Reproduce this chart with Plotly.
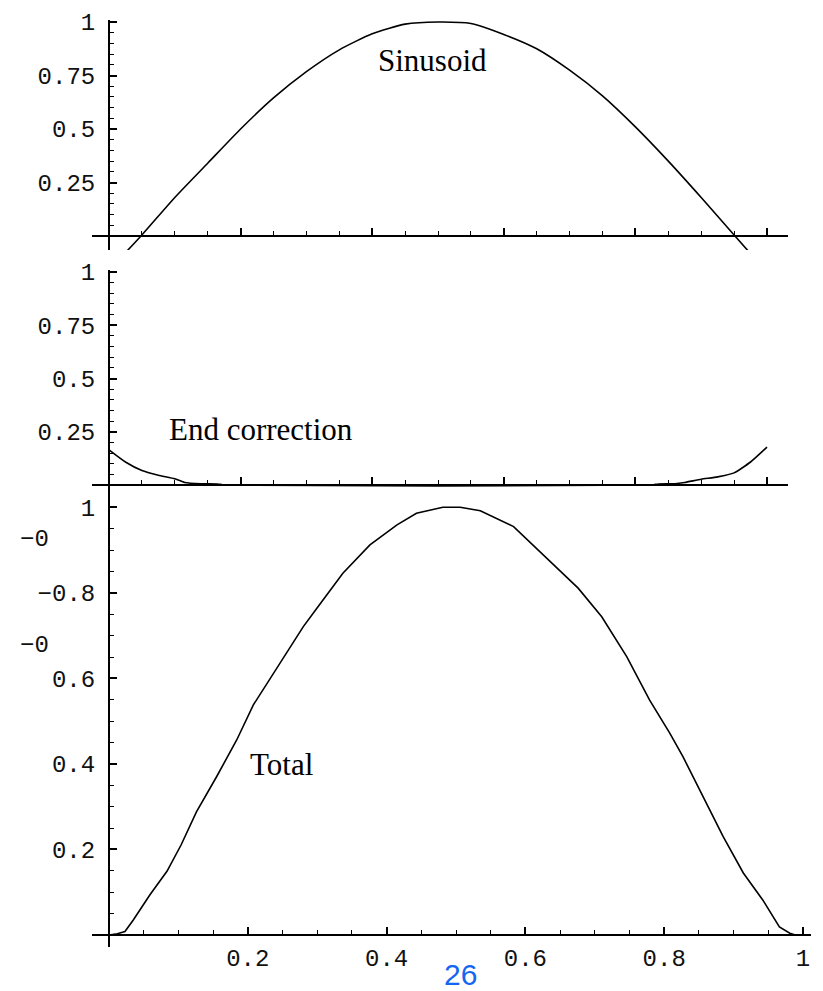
import plotly.graph_objects as go

# ---------------- data ----------------
sin_x = [0.0, 0.05, 0.1, 0.15, 0.2, 0.25, 0.3, 0.35, 0.4, 0.45, 0.5,
         0.55, 0.6, 0.65, 0.7, 0.75, 0.8, 0.85, 0.9, 0.95, 1.0]
sin_y = [-0.16, 0.005, 0.18, 0.34, 0.50, 0.645, 0.768, 0.87, 0.945, 0.99, 1.0,
         0.993, 0.942, 0.875, 0.775, 0.655, 0.51, 0.35, 0.18, 0.005, -0.17]

ec_x = [0.0, 0.025, 0.05, 0.075, 0.1, 0.115, 0.14, 0.165, 0.175, 0.825, 0.835,
        0.86, 0.875, 0.9, 0.925, 0.95, 0.975, 1.0]
ec_y = [0.165, 0.108, 0.068, 0.046, 0.029, 0.012, 0.006, 0.005, 0.0, 0.0, 0.005,
        0.006, 0.012, 0.027, 0.038, 0.057, 0.108, 0.178]

tot_x = [0.0, 0.012, 0.023, 0.035, 0.059, 0.0835, 0.104, 0.126, 0.155, 0.184,
         0.208, 0.232, 0.2565, 0.280, 0.299, 0.337, 0.376, 0.415, 0.443, 0.481,
         0.506, 0.535, 0.583, 0.618, 0.676, 0.710, 0.746, 0.779, 0.808, 0.827,
         0.856, 0.885, 0.914, 0.942, 0.966, 0.981, 0.989]
tot_y = [0.0, 0.003, 0.008, 0.035, 0.094, 0.149, 0.211, 0.288, 0.37, 0.456,
         0.538, 0.60, 0.663, 0.721, 0.763, 0.846, 0.912, 0.959, 0.986, 1.0,
         1.0, 0.992, 0.955, 0.90, 0.811, 0.744, 0.651, 0.549, 0.472, 0.417,
         0.323, 0.23, 0.145, 0.082, 0.019, 0.004, 0.0]

top_ytick_vals = [0.25, 0.5, 0.75, 1.0]
top_ytick_text = ["0.25", "0.5", "0.75", "1"]
bot_ytick_vals = [0.2, 0.4, 0.6, 0.8, 1.0]
bot_ytick_text = ["0.2", "0.4", "0.6", "\u22120.8", "1"]
bot_xtick_vals = [0.2, 0.4, 0.6, 0.8, 1.0]
bot_xtick_text = ["0.2", "0.4", "0.6", "0.8", "1"]
stray_label_vals = [0.924, 0.676]
stray_label_text = ["\u22120", "\u22120"]
panel_labels = ["Sinusoid", "End correction", "Total"]
page_number = "26"

# ---------------- layout geometry (pixels) ----------------
W, H = 823, 991
TICKFONT = dict(family="Liberation Mono", size=24, color="#111111")
TEXTFONT = dict(family="Liberation Serif", size=31, color="#000000")


def fx(px):
    return px / W


def fy(py):
    return 1 - py / H


def axis_x(x0px, x1px, zero_px, unit_px, ax_py, labels, tickvals=None, ticktext=None):
    rng = [(x0px - zero_px) / unit_px, (x1px - zero_px) / unit_px]
    majors = tickvals if tickvals is not None else [0.2, 0.4, 0.6, 0.8, 1.0]
    minors = [round(0.05 * i, 2) for i in range(1, 21) if round(0.05 * i, 2) not in majors]
    d = dict(domain=[fx(x0px), fx(x1px)], range=rng, anchor="free", position=fy(ax_py),
             showline=True, linewidth=2, linecolor="black", showgrid=False, zeroline=False,
             ticks="inside", ticklen=7, tickwidth=1.6, tickcolor="black",
             tickmode="array", tickvals=majors, ticktext=ticktext if ticktext else None,
             showticklabels=labels, tickfont=TICKFONT, ticklabelstandoff=1,
             minor=dict(tickmode="array", tickvals=minors, ticks="inside", ticklen=4,
                        tickwidth=1.4, tickcolor="black"),
             fixedrange=True)
    return d


def axis_y(y_top_px, y_bot_px, zero_py, unit_px, tickvals, ticktext, minor_step):
    rng = [(zero_py - y_bot_px) / unit_px, (zero_py - y_top_px) / unit_px]
    n = int(round(1.0 / minor_step))
    minors = [round(minor_step * i, 3) for i in range(1, n + 1)]
    minors = [m for m in minors if all(abs(m - t) > 1e-6 for t in tickvals)]
    return dict(domain=[fy(y_bot_px), fy(y_top_px)], range=rng, anchor="free", position=fx(109),
                showline=True, linewidth=2, linecolor="black", showgrid=False, zeroline=False,
                ticks="inside", ticklen=7, tickwidth=1.6, tickcolor="black",
                tickmode="array", tickvals=tickvals, ticktext=ticktext,
                tickfont=TICKFONT, ticklabelstandoff=8,
                minor=dict(tickmode="array", tickvals=minors, ticks="inside", ticklen=4,
                           tickwidth=1.4, tickcolor="black"),
                fixedrange=True)


fig = go.Figure()
line = dict(color="black", width=1.6)
fig.add_trace(go.Scatter(x=sin_x, y=sin_y, mode="lines", line=dict(**line, shape="spline", smoothing=0.6),
                         xaxis="x", yaxis="y", hoverinfo="skip"))
fig.add_trace(go.Scatter(x=ec_x, y=ec_y, mode="lines", line=dict(**line, shape="spline", smoothing=0.5),
                         xaxis="x2", yaxis="y2", hoverinfo="skip"))
fig.add_trace(go.Scatter(x=tot_x, y=tot_y, mode="lines", line=line,
                         xaxis="x3", yaxis="y3", hoverinfo="skip"))

layout = dict(
    width=W, height=H, margin=dict(l=0, r=0, t=0, b=0, autoexpand=False),
    paper_bgcolor="white", plot_bgcolor="rgba(0,0,0,0)", showlegend=False,
    xaxis=axis_x(92, 788, 109, 658, 236, False),
    yaxis=axis_y(20, 250, 236, 214, top_ytick_vals, top_ytick_text, 0.05),
    xaxis2=axis_x(92, 788, 109, 658, 485, False),
    yaxis2=axis_y(270, 497, 485, 213, top_ytick_vals, top_ytick_text, 0.05),
    xaxis3=axis_x(92, 811, 109, 694, 935, True, bot_xtick_vals, bot_xtick_text),
    yaxis3=axis_y(491, 947, 935, 427.7, bot_ytick_vals, bot_ytick_text, 0.05),
)
fig.update_layout(**layout)

anns = []
for v, t in zip(stray_label_vals, stray_label_text):
    anns.append(dict(x=fx(51), y=v, xref="paper", yref="y3", text=t, showarrow=False,
                     xanchor="right", yanchor="middle", font=TICKFONT))
label_pos = [(432, 60), (261, 429), (281, 764)]
for (px, py), t in zip(label_pos, panel_labels):
    anns.append(dict(x=fx(px), y=fy(py), xref="paper", yref="paper", text=t, showarrow=False,
                     xanchor="center", yanchor="middle", font=TEXTFONT))
anns.append(dict(x=fx(460), y=0.0, xref="paper", yref="paper", text=page_number, showarrow=False,
                 xanchor="center", yanchor="bottom", yshift=-2,
                 font=dict(family="Liberation Sans", size=30, color="#1466F0")))
fig.update_layout(annotations=anns)

fig.write_html("out.html", config={"displayModeBar": False},
               post_script="document.body.style.margin='0';document.body.style.overflow='hidden';")
